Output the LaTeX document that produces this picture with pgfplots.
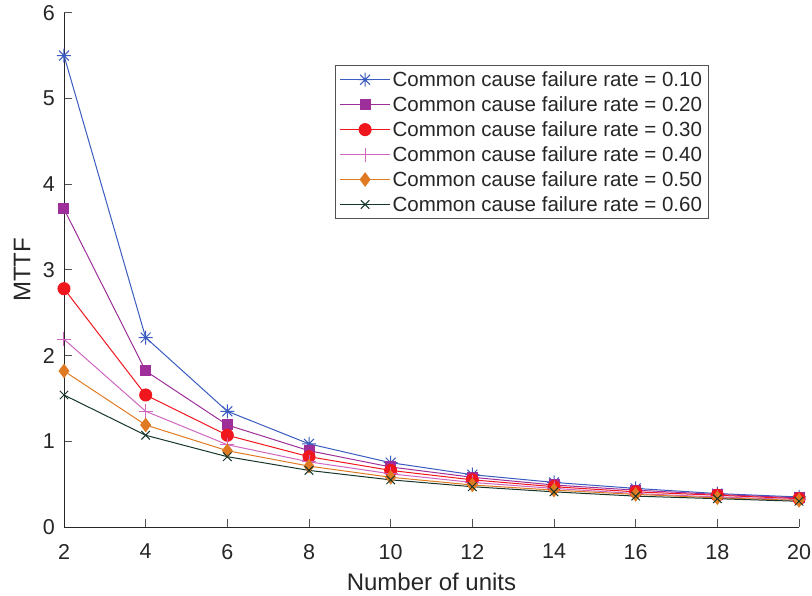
\documentclass[border=0pt]{standalone}
\usepackage{fontspec}
\setmainfont{Liberation Sans}
\usepackage{pgfplots}
\pgfplotsset{compat=1.18}
\definecolor{c1}{HTML}{3A5BBF}
\definecolor{c2}{HTML}{9E2F9A}
\definecolor{c3}{HTML}{F0161E}
\definecolor{c4}{HTML}{D066C0}
\definecolor{c5}{HTML}{E07A22}
\definecolor{c6}{HTML}{16362A}
\definecolor{axc}{HTML}{262626}
\pgfdeclareplotmark{mstar}{%
  \pgfpathmoveto{\pgfqpoint{-\pgfplotmarksize}{0pt}}\pgfpathlineto{\pgfqpoint{\pgfplotmarksize}{0pt}}%
  \pgfpathmoveto{\pgfqpoint{0pt}{-\pgfplotmarksize}}\pgfpathlineto{\pgfqpoint{0pt}{\pgfplotmarksize}}%
  \pgfpathmoveto{\pgfqpoint{-0.707\pgfplotmarksize}{-0.707\pgfplotmarksize}}\pgfpathlineto{\pgfqpoint{0.707\pgfplotmarksize}{0.707\pgfplotmarksize}}%
  \pgfpathmoveto{\pgfqpoint{-0.707\pgfplotmarksize}{0.707\pgfplotmarksize}}\pgfpathlineto{\pgfqpoint{0.707\pgfplotmarksize}{-0.707\pgfplotmarksize}}%
  \pgfusepathqstroke}
\begin{document}
\begin{tikzpicture}
\begin{axis}[name=ax, scale only axis, width=735bp, height=514.3bp,
  xmin=2, xmax=20, ymin=0, ymax=6,
  xtick={2,4,...,20}, ytick={0,1,...,6},
  axis x line*=bottom, axis y line*=left,
  tick align=inside, major tick length=8bp,
  axis line style={color=axc, line width=0.8bp},
  tick style={color=axc!80, line width=0.8bp},
  clip=false,
  every tick label/.append style={color=axc, font=\fontsize{21.5bp}{25bp}\selectfont},
  /pgf/number format/assume math mode=true,
  xticklabel style={anchor=north, inner sep=0pt, yshift=-17bp},
  yticklabel style={anchor=east, inner sep=0pt, xshift=-9bp},
  xlabel={Number of units}, ylabel={MTTF},
  label style={color=axc, font=\fontsize{24bp}{28bp}\selectfont},
  xlabel style={at={(axis description cs:0.5,0)}, anchor=center, yshift=-55bp},
  ylabel style={at={(axis description cs:0,0.5)}, anchor=center, yshift=42bp},
  legend cell align=left,
  legend style={at={(rel axis cs:0.369,0.898)}, anchor=north west, draw=axc!80, line width=0.8bp,
    font=\fontsize{20.5bp}{24bp}\selectfont, text=axc, row sep=4.6bp, inner sep=4bp,
    nodes={inner sep=2bp}},
  legend image code/.code={\draw[mark repeat=2, mark phase=2] plot coordinates {(0bp,0bp) (25bp,0bp) (50bp,0bp)};},
  every axis plot/.append style={line width=1bp},
]
\addplot[c1, mark=mstar, mark size=7bp] coordinates {(2,5.50) (4,2.21) (6,1.35) (8,0.97) (10,0.75) (12,0.61) (14,0.52) (16,0.45) (18,0.39) (20,0.35)};
\addlegendentry{Common cause failure rate = 0.10}
\addplot[c2, mark=square*, mark size=5bp] coordinates {(2,3.71) (4,1.82) (6,1.19) (8,0.89) (10,0.70) (12,0.58) (14,0.49) (16,0.43) (18,0.38) (20,0.34)};
\addlegendentry{Common cause failure rate = 0.20}
\addplot[c3, mark=*, mark size=6bp] coordinates {(2,2.78) (4,1.54) (6,1.07) (8,0.82) (10,0.66) (12,0.55) (14,0.47) (16,0.41) (18,0.37) (20,0.33)};
\addlegendentry{Common cause failure rate = 0.30}
\addplot[c4, mark=+, mark size=7bp] coordinates {(2,2.19) (4,1.35) (6,0.96) (8,0.76) (10,0.62) (12,0.52) (14,0.45) (16,0.39) (18,0.35) (20,0.32)};
\addlegendentry{Common cause failure rate = 0.40}
\addplot[c5, mark=diamond*, mark size=6.5bp] coordinates {(2,1.82) (4,1.19) (6,0.89) (8,0.71) (10,0.58) (12,0.49) (14,0.43) (16,0.38) (18,0.34) (20,0.31)};
\addlegendentry{Common cause failure rate = 0.50}
\addplot[c6, mark=x, mark size=6bp] coordinates {(2,1.54) (4,1.07) (6,0.82) (8,0.66) (10,0.55) (12,0.47) (14,0.41) (16,0.36) (18,0.33) (20,0.30)};
\addlegendentry{Common cause failure rate = 0.60}
\end{axis}
\pgfresetboundingbox
\path[use as bounding box] ([shift={(-64bp,-69bp)}]ax.south west) rectangle ([shift={(13bp,12.7bp)}]ax.north east);
\end{tikzpicture}
\end{document}
